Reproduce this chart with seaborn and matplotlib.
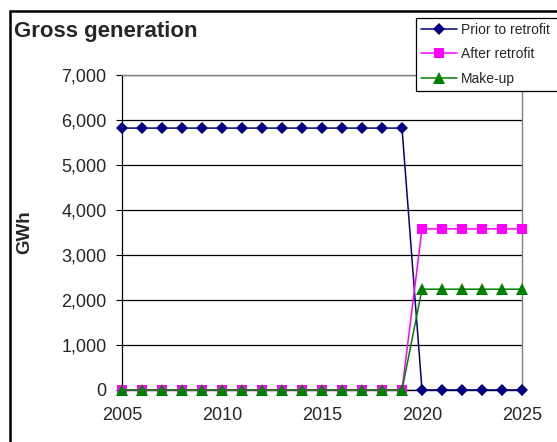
import matplotlib
matplotlib.use("Agg")
import matplotlib.pyplot as plt
from matplotlib.patches import Rectangle
from matplotlib.ticker import FuncFormatter, MultipleLocator
import pandas as pd
import seaborn as sns

# Annual gross generation (GWh)
years = [2005, 2006, 2007, 2008, 2009, 2010, 2011, 2012, 2013, 2014, 2015,
         2016, 2017, 2018, 2019, 2020, 2021, 2022, 2023, 2024, 2025]
prior_to_retrofit = [5820, 5820, 5820, 5820, 5820, 5820, 5820, 5820, 5820, 5820, 5820,
                     5820, 5820, 5820, 5820, 0, 0, 0, 0, 0, 0]
after_retrofit = [0, 0, 0, 0, 0, 0, 0, 0, 0, 0, 0,
                  0, 0, 0, 0, 3580, 3580, 3580, 3580, 3580, 3580]
make_up = [0, 0, 0, 0, 0, 0, 0, 0, 0, 0, 0,
           0, 0, 0, 0, 2240, 2240, 2240, 2240, 2240, 2240]

series_names = ["Prior to retrofit", "After retrofit", "Make-up"]
series_values = [prior_to_retrofit, after_retrofit, make_up]
series_colors = ["#000080", "#FF00FF", "#008000"]
series_markers = ["D", "s", "^"]
series_sizes = [6.5, 7, 8.5]

df = pd.concat(
    [pd.DataFrame({"Year": years, "GWh": vals, "Series": name})
     for name, vals in zip(series_names, series_values)],
    ignore_index=True,
)

sns.set_style("white")
plt.rcParams["font.family"] = ["Liberation Sans", "DejaVu Sans"]

W, H = 557, 442
fig = plt.figure(figsize=(W / 100, H / 100), dpi=100)
ax = fig.add_axes([122 / W, (H - 390) / H, 400 / W, 315 / H])

for name, color, marker, size in zip(series_names, series_colors, series_markers, series_sizes):
    sns.lineplot(
        data=df[df["Series"] == name], x="Year", y="GWh", ax=ax,
        color=color, marker=marker, markersize=size, markeredgewidth=0,
        linewidth=1.1, label=name, legend=False, clip_on=False, zorder=3,
    )

ax.set_xlim(2005, 2025)
ax.set_ylim(0, 7000)
ax.xaxis.set_major_locator(MultipleLocator(5))
ax.xaxis.set_minor_locator(MultipleLocator(1))
ax.yaxis.set_major_locator(MultipleLocator(1000))
ax.yaxis.set_major_formatter(FuncFormatter(lambda v, p: f"{v:,.0f}"))
ax.set_xlabel("")
ax.set_ylabel("")

ax.grid(axis="y", color="#000000", linewidth=0.9)
ax.grid(axis="x", visible=False)
ax.set_axisbelow(True)

for side in ["top", "right"]:
    ax.spines[side].set_color("#808080")
    ax.spines[side].set_linewidth(1.0)
ax.spines["left"].set_color("#000000")
ax.spines["left"].set_linewidth(0.9)
ax.spines["bottom"].set_color("#000000")
ax.spines["bottom"].set_linewidth(1.0)

ax.tick_params(axis="y", which="major", direction="out", length=4.5, width=0.8,
               color="#000000", labelsize=13, pad=6.5, left=True)
ax.tick_params(axis="x", which="major", direction="out", length=3.5, width=0.8,
               color="#000000", labelsize=13, pad=9, bottom=True)
ax.tick_params(axis="x", which="minor", direction="out", length=3.5, width=0.8,
               color="#000000", bottom=True)

# Chart border (runs off the right and bottom edges)
fig.patches.append(Rectangle((10 / W, -0.2), 1.5, 1.2 - 11 / H,
                             transform=fig.transFigure, fill=False,
                             edgecolor="#000000", linewidth=1.8))

fig.text(14 / W, 1 - 31 / H, "Gross generation", fontsize=16,
         fontweight="bold", va="center", ha="left")
fig.text(25 / W, 1 - 232 / H, "GWh", fontsize=13.5, fontweight="bold",
         rotation=90, va="center", ha="center")

# Legend box stretched so its right edge falls outside the figure
handles, labels = ax.get_legend_handles_labels()
leg_h = 71 / H
leg = fig.legend(handles, labels, loc="upper left", mode="expand",
                 bbox_to_anchor=(416 / W, 1 - 18 / H - leg_h, 165 / W, leg_h),
                 borderaxespad=0,
                 fontsize=10, frameon=True, fancybox=False, shadow=False,
                 edgecolor="#000000", framealpha=1, handlelength=2.6,
                 handletextpad=0.3, labelspacing=0.75, borderpad=0.35)
leg.get_frame().set_linewidth(0.9)

fig.savefig("out.png", dpi=100)
